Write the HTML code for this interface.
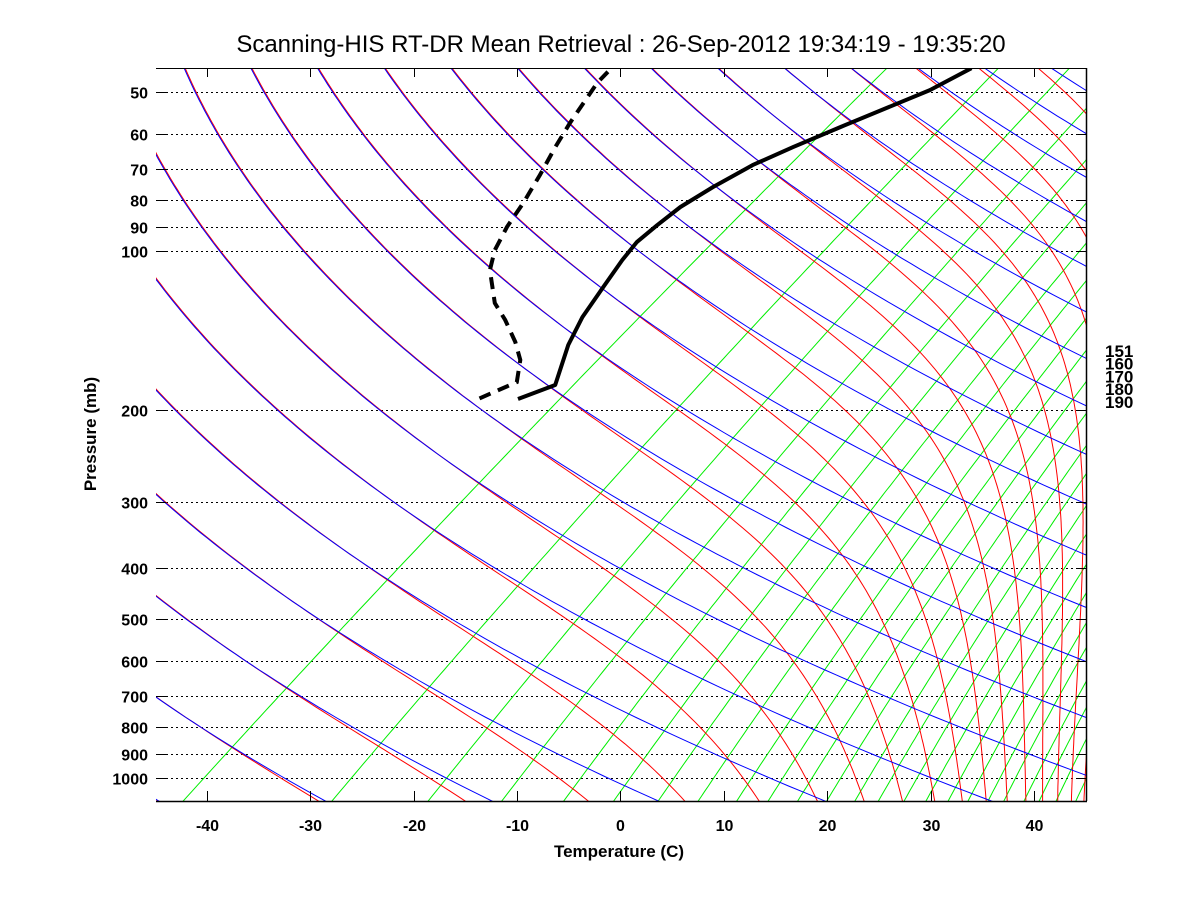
<!DOCTYPE html>
<html>
<head>
<meta charset="utf-8">
<style>
  html,body{margin:0;padding:0;background:#fff;}
  svg{display:block;}
  text{font-family:"Liberation Sans",Arial,sans-serif;fill:#000;}
</style>
</head>
<body>
<svg id="chart" width="1200" height="900" viewBox="0 0 1200 900" xmlns="http://www.w3.org/2000/svg">
  <defs>
    <clipPath id="plotClip"><rect x="156" y="68" width="930" height="733"/></clipPath>
  </defs>
  <rect x="0" y="0" width="1200" height="900" fill="#fff"/>
  <text x="621" y="52" font-size="24" text-anchor="middle">Scanning-HIS RT-DR Mean Retrieval : 26-Sep-2012 19:34:19 - 19:35:20</text>
  <g id="grid"></g>
  <g id="plot" clip-path="url(#plotClip)">
    <g id="mixing"></g>
    <g id="moist"></g>
    <g id="dry"></g>
    <g id="profiles"></g>
  </g>
  <g id="axes"></g>
  <text x="619" y="857" font-size="17" font-weight="bold" text-anchor="middle">Temperature (C)</text>
  <text x="0" y="0" font-size="17" font-weight="bold" text-anchor="middle" transform="translate(96,434) rotate(-90)">Pressure (mb)</text>
  <g id="sidelabels"></g>
</svg>
<script>
// ---- data ----
const pressureLevels = [50,60,70,80,90,100,200,300,400,500,600,700,800,900,1000];
const tempTicks = [-40,-30,-20,-10,0,10,20,30,40];
const thetaValues = [190.75,206.4,222.05,237.7,253.35,269.0,284.65,300.3,315.95,331.6,347.25,362.9,378.55,394.2,409.85,425.5,441.15,456.8,472.45,488.1,503.75,519.4,535.05,550.7];
const mixingRatios = [0.084,0.35,0.8,1.44,2.3,3.3,4.5,5.9,7.6,9.3,11.2,13.4,15.9,18.3,21.3,24.2,27.5,30.8,34.5,37.7,42.2,45.9,50.4,56.2];
const tempPressure = [190.9,179.6,150.7,133.5,117.5,104.0,96.1,89.3,82.5,75.6,68.7,63.5,58.2,49.5,45.0];
const tempValues   = [-61.6,-59.8,-63.7,-65.9,-67.7,-69.4,-70.3,-70.5,-70.6,-70.0,-69.0,-67.4,-65.4,-61.5,-60.3];
const dewPressure  = [190.4,177.3,161.0,148.8,135.2,125.5,108.7,99.6,90.0,81.1,71.7,63.5,57.1,48.0,45.7];
const dewValues    = [-65.4,-63.9,-66.4,-69.2,-73.0,-76.2,-80.9,-83.0,-84.8,-86.3,-88.3,-90.4,-92.1,-94.6,-95.0];
const sideLabels = ['151','160','170','180','190'];

// ---- axis functions ----
const X0=155, B=10.34, K=1.33, YB=801, YT=68, XL=156, XR=1086;
function yOf(p){ return 251 + 527*Math.log10(p/100); }
function xOf(tc,p){ return X0 + B*(tc+45) + K*(YB - yOf(p)); }
const NS='http://www.w3.org/2000/svg';
function mk(tag, attrs, parent){
  const e=document.createElementNS(NS,tag);
  for(const k in attrs) e.setAttribute(k, attrs[k]);
  parent.appendChild(e); return e;
}
const pTop=44, pBot=1110;
const pSamples=[];
for(let i=0;i<=140;i++){ pSamples.push(pBot*Math.pow(pTop/pBot,i/140)); }
function pathFrom(fnT, dx){
  let d='';
  pSamples.forEach((p,i)=>{ const t=fnT(p); d+=(i?'L':'M')+(xOf(t,p)+(dx||0)).toFixed(1)+','+yOf(p).toFixed(1); });
  return d;
}
function es(tc){ return 6.112*Math.exp(17.67*tc/(tc+243.5)); }
function thetaE(tk,p){
  const e=es(tk-273.15); const ws=0.622*e/Math.max(p-e,1);
  return tk*Math.pow(1000/p,0.2857)*Math.exp(2.5e6*ws/(1004*tk));
}

// ---- grid ----
const grid=document.getElementById('grid');
pressureLevels.forEach(p=>{
  const y=Math.round(yOf(p))+0.5;
  const l=mk('line',{x1:XL,x2:XR,y1:y,y2:y,stroke:'#000','stroke-width':1,'stroke-dasharray':'2,3'},grid);
  
  
});

// ---- mixing ratio lines ----
const mixG=document.getElementById('mixing');
mixingRatios.forEach(w=>{
  const d=pathFrom(p=>{ const e=w*p/(622+w); const a=Math.log(e/6.112); return 243.5*a/(17.67-a); });
  const el=mk('path',{d:d,fill:'none',stroke:'#00ee00','stroke-width':1},mixG);
  
  
});

// ---- moist adiabats ----
const moistG=document.getElementById('moist');
thetaValues.forEach(th=>{
  const d=pathFrom(p=>{
    let lo=120, hi=340;
    for(let i=0;i<40;i++){ const m=(lo+hi)/2; if(thetaE(m,p)>th) hi=m; else lo=m; }
    return (lo+hi)/2-273.15;
  }, 1);
  const el=mk('path',{d:d,fill:'none',stroke:'#ff0000','stroke-width':1},moistG);
  
  
});

// ---- dry adiabats ----
const dryG=document.getElementById('dry');
thetaValues.forEach(th=>{
  const d=pathFrom(p=>th*Math.pow(p/1000,0.2857)-273.15);
  const el=mk('path',{d:d,fill:'none',stroke:'#0000ff','stroke-width':1},dryG);
  
  
});

// ---- profiles ----
const prof=document.getElementById('profiles');
function profPath(ps,ts){ return ps.map((p,i)=>(i?'L':'M')+xOf(ts[i],p).toFixed(1)+','+yOf(p).toFixed(1)).join(''); }
const tLine=mk('path',{d:profPath(tempPressure,tempValues),fill:'none',stroke:'#000','stroke-width':4,'stroke-linejoin':'round'},prof);


const dLine=mk('path',{d:profPath(dewPressure,dewValues),fill:'none',stroke:'#000','stroke-width':4,'stroke-dasharray':'12,8'},prof);



// ---- axes ----
const ax=document.getElementById('axes');
const bl=mk('line',{x1:XL,x2:XR+1,y1:YB+0.5,y2:YB+0.5,stroke:'#000','stroke-width':1.5},ax);


const tl=mk('line',{x1:XL,x2:XR+1,y1:YT+0.5,y2:YT+0.5,stroke:'#000','stroke-width':1},ax);


const rl=mk('line',{x1:XR+0.5,x2:XR+0.5,y1:YT,y2:YB,stroke:'#000','stroke-width':1.5},ax);


tempTicks.forEach(t=>{
  const x=Math.round(X0+B*(t+45))+0.5;
  const a=mk('line',{x1:x,x2:x,y1:YB-10,y2:YB,stroke:'#000','stroke-width':1},ax);
  
  
  const b=mk('line',{x1:x,x2:x,y1:YT,y2:YT+9,stroke:'#000','stroke-width':1},ax);
  
  
  const tx=mk('text',{x:x,y:831,'font-size':16,'font-weight':'bold','text-anchor':'middle'},ax);
  tx.textContent=String(t);
  
  
});
pressureLevels.forEach(p=>{
  const y=Math.round(yOf(p))+0.5;
  const a=mk('line',{x1:XL,x2:XL+10,y1:y,y2:y,stroke:'#000','stroke-width':1},ax);
  
  
  const b=mk('line',{x1:XR-10,x2:XR,y1:y,y2:y,stroke:'#000','stroke-width':1},ax);
  
  
  const tx=mk('text',{x:148,y:y+6,'font-size':16,'font-weight':'bold','text-anchor':'end'},ax);
  tx.textContent=String(p);
  
  
});

// ---- side labels ----
const sl=document.getElementById('sidelabels');
sideLabels.forEach((s,i)=>{
  const tx=mk('text',{x:1105,y:357+i*12.7,'font-size':17,'font-weight':'bold'},sl);
  tx.textContent=s;
  
  
});
</script>
</body>
</html>
